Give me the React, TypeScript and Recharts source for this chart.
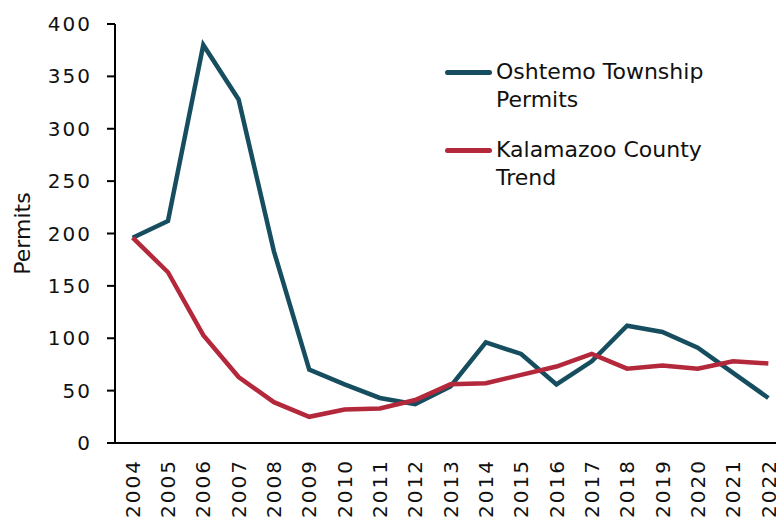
import React from 'react';
import { Legend, Line, LineChart, XAxis, YAxis } from 'recharts';

const years = [2004, 2005, 2006, 2007, 2008, 2009, 2010, 2011, 2012, 2013, 2014, 2015, 2016, 2017, 2018, 2019, 2020, 2021, 2022];
const oshtemoPermits = [196, 212, 380, 328, 183, 70, 56, 43, 37, 54, 96, 85, 56, 78, 112, 106, 91, 67, 43];
const countyTrend = [196, 163, 103, 63, 39, 25, 32, 33, 41, 56, 57, 65, 73, 85, 71, 74, 71, 78, 76];
const yTicks = [0, 50, 100, 150, 200, 250, 300, 350, 400];
// tick marks sit between the years
const yearBounds = [...years.map((y) => y - 0.5), years[years.length - 1] + 0.5];
const seriesOrder = ['oshtemo', 'county'];

const data = years.map((year, i) => ({
  year,
  oshtemo: oshtemoPermits[i],
  county: countyTrend[i],
}));

const FONT = '"DejaVu Sans", sans-serif';
const BLUE = '#164e5f';
const RED = '#b3283a';

const YearTick = ({ x, y, payload }: any) => (
  <text
    x={x}
    y={y}
    transform={`rotate(-90, ${x}, ${y})`}
    textAnchor="end"
    dy="0.36em"
    fontFamily={FONT}
    fontSize={20}
    letterSpacing={2}
    fill="#111"
  >
    {payload.value}
  </text>
);

const LegendBox = ({ payload }: any) => {
  const items = [...(payload || [])].sort(
    (a: any, b: any) => seriesOrder.indexOf(a.dataKey) - seriesOrder.indexOf(b.dataKey),
  );
  return (
    <div style={{ fontFamily: FONT, fontSize: 22, lineHeight: '28px', color: '#111', textAlign: 'left' }}>
      {items.map((item: any) => (
        <div key={item.value} style={{ display: 'flex', alignItems: 'flex-start', marginBottom: 22 }}>
          <span
            style={{
              display: 'inline-block',
              width: 47,
              height: 5,
              borderRadius: 3,
              background: item.color,
              marginTop: 11.5,
              marginRight: 4,
              flexShrink: 0,
            }}
          />
          <span style={{ width: 235 }}>{item.value}</span>
        </div>
      ))}
    </div>
  );
};

export default function App() {
  return (
    <div style={{ position: 'relative', left: -8, top: -8, width: 784, height: 520, overflow: 'hidden', background: '#fff' }}>
      <LineChart width={786} height={520} data={data} margin={{ top: 24, right: 0, bottom: 0, left: 0 }}>
        <XAxis
          xAxisId="bounds"
          type="number"
          dataKey="year"
          domain={[2003.5, 2022.5]}
          ticks={yearBounds}
          tick={false}
          tickSize={8}
          height={8}
          axisLine={{ stroke: '#000', strokeWidth: 2 }}
          tickLine={{ stroke: '#000', strokeWidth: 2 }}
        />
        <XAxis
          xAxisId="years"
          type="number"
          dataKey="year"
          domain={[2003.5, 2022.5]}
          ticks={years}
          interval={0}
          tick={<YearTick />}
          tickSize={0}
          tickMargin={8}
          height={69}
          axisLine={false}
          tickLine={false}
        />
        <YAxis
          width={115}
          domain={[0, 400]}
          ticks={yTicks}
          interval={0}
          tickSize={8}
          tickMargin={15}
          axisLine={{ stroke: '#000', strokeWidth: 2 }}
          tickLine={{ stroke: '#000', strokeWidth: 2 }}
          tick={{ fontFamily: FONT, fontSize: 20, fill: '#111', letterSpacing: 2 }}
          label={({ viewBox }: any) => (
            <text
              x={22}
              y={viewBox.y + viewBox.height / 2}
              transform={`rotate(-90, 22, ${viewBox.y + viewBox.height / 2})`}
              textAnchor="middle"
              dy="0.36em"
              fontFamily={FONT}
              fontSize={22}
              fill="#111"
            >
              Permits
            </text>
          )}
        />
        <Legend
          content={<LegendBox />}
          layout="horizontal"
          verticalAlign="middle"
          align="center"
          wrapperStyle={{ left: 445, top: 58, width: 300 }}
        />
        <Line
          xAxisId="years"
          type="linear"
          dataKey="oshtemo"
          name="Oshtemo Township Permits"
          stroke={BLUE}
          strokeWidth={4.5}
          dot={false}
          activeDot={false}
          isAnimationActive={false}
        />
        <Line
          xAxisId="years"
          type="linear"
          dataKey="county"
          name="Kalamazoo County Trend"
          stroke={RED}
          strokeWidth={4.5}
          dot={false}
          activeDot={false}
          isAnimationActive={false}
        />
      </LineChart>
    </div>
  );
}
